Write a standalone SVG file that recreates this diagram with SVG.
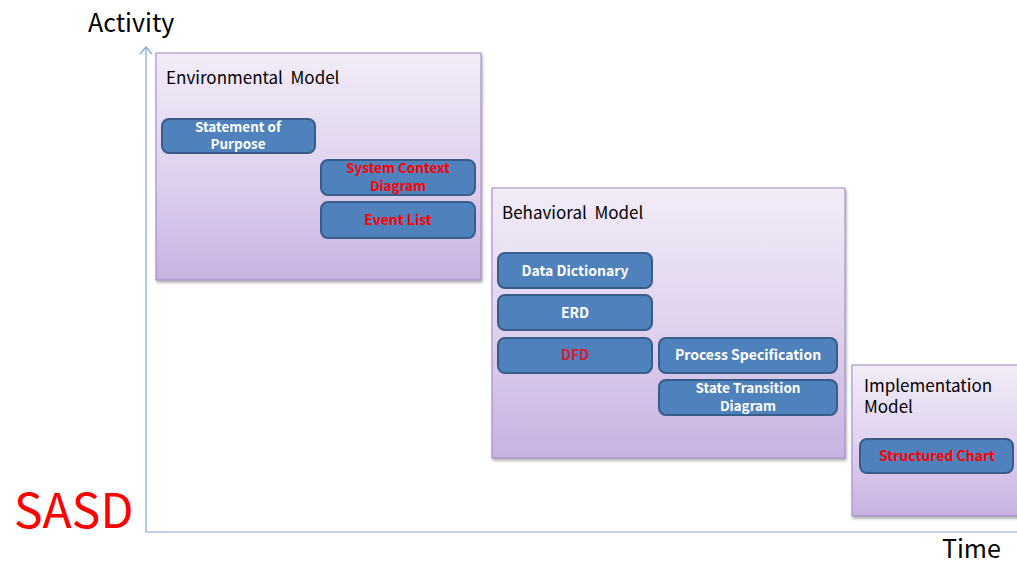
<svg xmlns="http://www.w3.org/2000/svg" width="1017" height="564" viewBox="0 0 1017 564">
<defs>
<linearGradient id="pg" x1="0" y1="0" x2="0" y2="1">
<stop offset="0" stop-color="#f2ecf8"/>
<stop offset="0.5" stop-color="#e0d3ee"/>
<stop offset="1" stop-color="#c8b2e2"/>
</linearGradient>
<filter id="sh" x="-5%" y="-5%" width="110%" height="110%">
<feDropShadow dx="1" dy="2" stdDeviation="1.5" flood-color="#000" flood-opacity="0.35"/>
</filter>
<marker id="ah" markerWidth="14" markerHeight="10" refX="7" refY="1" orient="0" markerUnits="userSpaceOnUse">
<path d="M1,8 L7,1 L13,8" fill="none" stroke="#7fa6d6" stroke-width="1.2"/>
</marker>
</defs>
<style>
.panel{fill:url(#pg);stroke:#9b85c2;stroke-width:1;filter:url(#sh)}
.box{fill:#4f81bd;stroke:#385d8a;stroke-width:2}
.t{font-family:"Noto Sans CJK KR","Noto Sans",sans-serif;font-weight:bold;font-size:14px;text-anchor:middle}
.t2{font-size:13.5px}
.w{fill:#ffffff}
.r{fill:#ff0000}
.title{font-family:"Noto Sans CJK KR","Noto Sans",sans-serif;font-size:17px;fill:#000}
.ax{stroke:#7fa6d6;stroke-width:1.2;fill:none}
.big{font-family:"Noto Sans CJK KR","Noto Sans",sans-serif;font-size:25px;fill:#000}
</style>
<rect width="1017" height="564" fill="#fff"/>
<g id="axes">
<line class="ax" x1="146" y1="532" x2="146" y2="47" marker-end="url(#ah)"/>
<line class="ax" x1="146" y1="532" x2="1017" y2="532"/>
</g>
<text class="big" x="88" y="32">Activity</text>
<text class="big" x="942" y="558">Time</text>
<text x="14" y="528" font-family="'Noto Sans CJK KR','Noto Sans',sans-serif" font-size="48" fill="#ff0000">SASD</text>

<g id="env">
<rect class="panel" x="156" y="53" width="325" height="227"/>
<text class="title" x="166" y="84" xml:space="preserve">Environmental  Model</text>
</g>
<g id="beh">
<rect class="panel" x="492" y="188" width="353" height="270"/>
<text class="title" x="502" y="219" xml:space="preserve">Behavioral  Model</text>
</g>
<g id="impl">
<rect class="panel" x="852" y="365" width="175" height="151"/>
<text class="title" x="864" y="392">Implementation</text>
<text class="title" x="864" y="413">Model</text>
</g>

<g id="n-sop">
<rect class="box" x="162" y="119" width="153" height="34" rx="7"/>
<text class="t t2 w" x="238" y="132">Statement of</text>
<text class="t t2 w" x="238" y="149">Purpose</text>
</g>
<g id="n-scd">
<rect class="box" x="321" y="160" width="154" height="35" rx="7"/>
<text class="t t2 r" x="398" y="173">System Context</text>
<text class="t t2 r" x="398" y="191">Diagram</text>
</g>
<g id="n-el">
<rect class="box" x="321" y="202" width="154" height="36" rx="7"/>
<text class="t r" x="398" y="225">Event List</text>
</g>
<g id="n-dd">
<rect class="box" x="498" y="253" width="154" height="35" rx="7"/>
<text class="t w" x="575" y="276">Data Dictionary</text>
</g>
<g id="n-erd">
<rect class="box" x="498" y="295" width="154" height="35" rx="7"/>
<text class="t w" x="575" y="318">ERD</text>
</g>
<g id="n-dfd">
<rect class="box" x="498" y="338" width="154" height="35" rx="7"/>
<text class="t" x="575" y="360" fill="#d0202a">DFD</text>
</g>
<g id="n-ps">
<rect class="box" x="659" y="338" width="178" height="35" rx="7"/>
<text class="t w" x="748" y="360">Process Specification</text>
</g>
<g id="n-std">
<rect class="box" x="659" y="380" width="178" height="35" rx="7"/>
<text class="t t2 w" x="748" y="393">State Transition</text>
<text class="t t2 w" x="748" y="411">Diagram</text>
</g>
<g id="n-sc">
<rect class="box" x="860" y="439" width="153" height="34" rx="7"/>
<text class="t r" x="937" y="461">Structured Chart</text>
</g>
</svg>
